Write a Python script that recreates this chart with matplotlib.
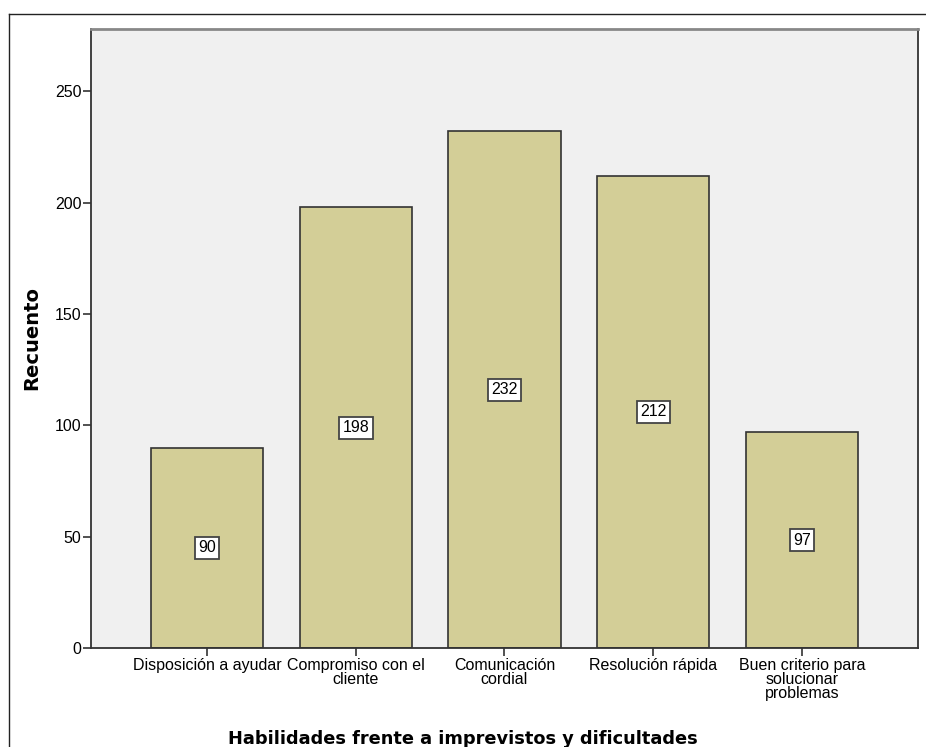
import matplotlib.pyplot as plt
from matplotlib.lines import Line2D

categorias = ["Disposición a ayudar", "Compromiso con el\ncliente", "Comunicación\ncordial",
              "Resolución rápida", "Buen criterio para\nsolucionar\nproblemas"]
recuento = [90, 198, 232, 212, 97]
yticks = [0, 50, 100, 150, 200, 250]

plt.rcParams['font.family'] = ['Liberation Sans', 'DejaVu Sans']

fig = plt.figure(figsize=(9.26, 7.47), dpi=100)
ax = fig.add_axes([91/926, 1-648/747, 827/926, 619/747])
ax.set_facecolor('#f0f0f0')

x = range(len(categorias))
ax.bar(x, recuento, width=0.753, color='#d3ce97', edgecolor='#333333', linewidth=1.2, zorder=2)

# etiquetas de valor a media altura
for i, v in enumerate(recuento):
    ax.text(i, v / 2, str(v), ha='center', va='center', fontsize=11.5, color='black', zorder=3,
            bbox=dict(boxstyle='square,pad=0.22', facecolor='white', edgecolor='#444444', linewidth=1.3))

ax.set_xlim(-0.78, 4.78)
ax.set_ylim(0, 278)
ax.set_yticks(yticks)
ax.set_xticks(list(x))
ax.set_xticklabels(categorias, fontsize=11.5, linespacing=0.92)
ax.tick_params(axis='y', labelsize=11.5, length=6, width=1.2, color='#333333', pad=1)
ax.tick_params(axis='x', length=6, width=1.2, color='#333333', pad=1)

for s in ['left', 'bottom', 'right']:
    ax.spines[s].set_color('#333333')
    ax.spines[s].set_linewidth(1.3)
ax.spines['top'].set_color('#888888')
ax.spines['top'].set_linewidth(2)

ax.set_ylabel('Recuento', fontsize=14, fontweight='bold', family='DejaVu Sans', labelpad=10)
ax.set_xlabel('Habilidades frente a imprevistos y dificultades', fontsize=12.8, fontweight='bold',
              family='DejaVu Sans', va='center')
# el título del eje x va centrado en todo el gráfico
ax.xaxis.set_label_coords((463 - 91) / 827, -(739 - 648) / 619)

# marco exterior del gráfico
fig.add_artist(Line2D([9/926, 9/926], [0, 1-14/747], color='#222222', linewidth=1, transform=fig.transFigure))
fig.add_artist(Line2D([9/926, 1], [1-14/747, 1-14/747], color='#222222', linewidth=1, transform=fig.transFigure))

fig.savefig('out.png', dpi=100)
